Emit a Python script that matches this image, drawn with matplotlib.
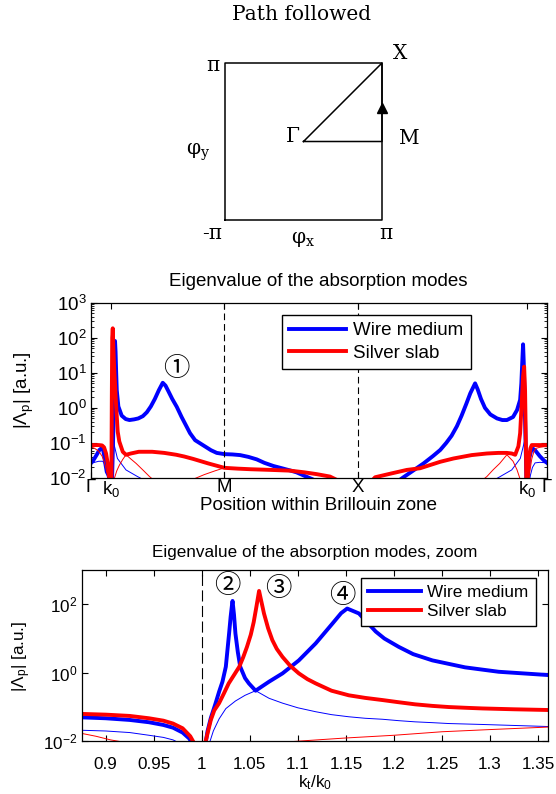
import numpy as np
import matplotlib
matplotlib.use('Agg')
import matplotlib.pyplot as plt

plt.rcParams['font.family'] = 'Liberation Sans'
plt.rcParams['mathtext.fontset'] = 'custom'
plt.rcParams['mathtext.rm'] = 'Liberation Sans'
plt.rcParams['mathtext.it'] = 'Liberation Sans:italic'
plt.rcParams['mathtext.bf'] = 'Liberation Sans:bold'
plt.rcParams['axes.linewidth'] = 0.9

#-------------------------------------------------------------------------
# data
#-------------------------------------------------------------------------

# schematic (units of pi)
box_x  = [-1, 1, 1, -1, -1]
box_y  = [-1, -1, 1, 1, -1]
path_x = [0, 1, 1, 0]          # Gamma -> M -> X -> Gamma
path_y = [0, 0, 1, 0]
arrow_xy = (1, 0.43)

# Brillouin zone path (path length / pi)
bz_ticks  = [0, 0.152, 1, 2, 3.262, 3.414]
bz_labels = ['Γ', 'k$_\\mathrm{0}$', 'M', 'X', 'k$_\\mathrm{0}$', 'Γ']
bz_dashed = [1, 2]

wm_x = [0.0, 0.02, 0.045, 0.065, 0.08, 0.092, 0.1, 0.11, 0.12, 0.133, 0.144, 0.152,
        0.16, 0.167, 0.173, 0.178, 0.182, 0.186, 0.19, 0.195, 0.207, 0.232,
        0.262, 0.29, 0.325, 0.356, 0.39, 0.42, 0.45, 0.48, 0.51, 0.539,
        0.56, 0.581, 0.61, 0.644, 0.68, 0.718, 0.743, 0.781, 0.843, 0.9,
        0.943, 1.0, 1.06, 1.118, 1.18, 1.242, 1.3, 1.367, 1.43, 1.49, 1.54,
        1.6, 1.66, 1.75, 2.0, 2.25, 2.34, 2.42, 2.49, 2.56, 2.615, 2.66, 2.7,
        2.74, 2.775, 2.81, 2.84, 2.876, 2.895, 2.92, 2.95, 2.99, 3.04, 3.08,
        3.114, 3.16, 3.19, 3.213, 3.222, 3.23, 3.235, 3.24, 3.246, 3.252,
        3.258, 3.262, 3.268, 3.28, 3.295, 3.31, 3.325, 3.36, 3.39, 3.414]
wm_y = [0.026, 0.032, 0.046, 0.063, 0.07, 0.066, 0.046, 0.025, 0.015, 0.012, 0.008, 0.002,
        0.01, 0.1, 1.5, 15, 81, 40, 12, 3.2, 1.1, 0.6,
        0.48, 0.45, 0.47, 0.5, 0.58, 0.75, 1.1, 1.8, 3.2, 5.2,
        4.3, 3.0, 1.8, 1.07, 0.55, 0.29, 0.19, 0.12, 0.085, 0.062,
        0.052, 0.048, 0.047, 0.045, 0.04, 0.034, 0.027, 0.022, 0.019, 0.0165, 0.0145,
        0.0115, 0.0092, 0.006, 0.002, 0.006, 0.0105, 0.017, 0.026, 0.042, 0.063, 0.1, 0.16,
        0.3, 0.6, 1.3, 2.6, 5.0, 3.4, 1.8, 1.0, 0.65, 0.5, 0.45,
        0.45, 0.55, 0.87, 1.7, 5, 25, 65, 20, 2, 0.2,
        0.02, 0.002, 0.01, 0.035, 0.06, 0.068, 0.062, 0.042, 0.032, 0.027]

wm2_x = [0.0, 0.03, 0.06, 0.09, 0.105, 0.12, 0.135, 0.145, 0.15, 0.153, 0.156, 0.159,
         0.165, 0.2, 0.264, 0.35, 0.42, 0.5, np.nan,
         2.9, 3.0, 3.064, 3.15, 3.214, 3.25, 3.253, 3.256, 3.259,
         3.262, 3.268, 3.28, 3.29, 3.305, 3.325, 3.36, 3.414]
wm2_y = [0.026, 0.028, 0.03, 0.03, 0.025, 0.015, 0.007, 0.004, 0.01, 0.5, 2.5, 0.6,
         0.13, 0.036, 0.017, 0.011, 0.008, 0.005, np.nan,
         0.005, 0.008, 0.011, 0.017, 0.036, 0.13, 0.6, 2.0, 0.5,
         0.01, 0.004, 0.007, 0.012, 0.02, 0.027, 0.028, 0.027]

ss_x = [0.0, 0.03, 0.06, 0.085, 0.1, 0.115, 0.128, 0.14, 0.148, 0.152, 0.155,
        0.158, 0.161, 0.165, 0.169, 0.175, 0.183, 0.19, 0.202, 0.214, 0.24,
        0.264, 0.3, 0.36, 0.46, 0.55, 0.64, 0.7, 0.767, 0.88,
        1.0, 1.1, 1.194, 1.35, 1.493, 1.6, 1.69, 1.79, 1.85, 2.0, 2.1, 2.128,
        2.25, 2.365, 2.465, 2.615, 2.714, 2.85, 2.964, 3.05, 3.114, 3.15,
        3.176, 3.2, 3.213, 3.226, 3.235, 3.243, 3.25, 3.256, 3.262, 3.268,
        3.28, 3.29, 3.3, 3.35, 3.414]
ss_y = [0.087, 0.087, 0.087, 0.085, 0.075, 0.05, 0.025, 0.011, 0.004, 0.001, 0.01,
        2.0, 100, 186, 60, 15, 4, 1.2, 0.21, 0.11, 0.056,
        0.046, 0.05, 0.056, 0.056, 0.052, 0.046, 0.041, 0.035, 0.026,
        0.0195, 0.0185, 0.0178, 0.017, 0.0162, 0.0145, 0.0129, 0.011, 0.0085, 0.003, 0.008, 0.0105,
        0.0135, 0.017, 0.019, 0.029, 0.036, 0.045, 0.05, 0.052, 0.052, 0.05,
        0.046, 0.08, 0.19, 1.7, 8, 15, 3, 0.1, 0.001, 0.01,
        0.04, 0.07, 0.087, 0.087, 0.087]

ss2_x = [0.0, 0.03, 0.06, 0.085, 0.1, 0.115, 0.13, 0.14, np.nan,
         0.178, 0.195, 0.214, 0.24, 0.264, 0.3, 0.34, 0.39, 0.44, 0.5, np.nan,
         0.76, 0.85, 0.93, 1.0, np.nan,
         2.9, 2.964, 3.01, 3.06, 3.114, 3.16, 3.19, 3.21, 3.22, np.nan,
         3.275, 3.285, 3.3, 3.315, 3.33, 3.36, 3.39, 3.414]
ss2_y = [0.078, 0.07, 0.058, 0.042, 0.03, 0.018, 0.01, 0.006, np.nan,
         0.01, 0.016, 0.023, 0.034, 0.046, 0.035, 0.026, 0.017, 0.011, 0.007, np.nan,
         0.009, 0.0125, 0.016, 0.0195, np.nan,
         0.007, 0.011, 0.017, 0.026, 0.046, 0.03, 0.017, 0.01, 0.006, np.nan,
         0.006, 0.015, 0.035, 0.055, 0.07, 0.075, 0.078, 0.078]

# zoom near the light line (k_t / k_0)
kz_ticks  = [0.9, 0.95, 1, 1.05, 1.1, 1.15, 1.2, 1.25, 1.3, 1.35]
kz_labels = ['0.9', '0.95', '1', '1.05', '1.1', '1.15', '1.2', '1.25', '1.3', '1.35']

zwm_x = [0.875, 0.9, 0.925, 0.945, 0.96, 0.97, 0.98, 0.987, 0.992, 0.996, 1.0,
         1.003, 1.006, 1.0094, 1.014, 1.018, 1.0215, 1.025, 1.0267, 1.0285,
         1.03, 1.0315, 1.032, 1.0335, 1.035, 1.0375, 1.04, 1.045, 1.049, 1.056,
         1.07, 1.084, 1.101, 1.1185, 1.1358, 1.145, 1.1513, 1.1635, 1.172,
         1.181, 1.19, 1.205, 1.22, 1.24, 1.274, 1.309, 1.36]
zwm_y = [0.05, 0.047, 0.042, 0.036, 0.03, 0.025, 0.018, 0.012, 0.007, 0.003, 0.001,
         0.006, 0.02, 0.048, 0.12, 0.28, 0.55, 1.5, 4.6, 15,
         43, 100, 125, 50, 14, 4, 1.5, 0.7, 0.49, 0.3,
         0.55, 0.96, 2.3, 7.2, 27, 55, 75, 54, 30,
         16, 10, 5.7, 3.5, 2.3, 1.44, 1.07, 0.86]

zwm2_x = [0.875, 0.9, 0.925, 0.945, 0.96, 0.97, 0.98, 0.99, np.nan,
          1.004, 1.006, 1.012, 1.018, 1.025, 1.035, 1.045, 1.056, 1.07, 1.084,
          1.1, 1.1185, 1.135, 1.153, 1.17, 1.188, 1.205, 1.222, 1.24, 1.257,
          1.292, 1.325, 1.36]
zwm2_y = [0.021, 0.02, 0.018, 0.015, 0.013, 0.011, 0.008, 0.004, np.nan,
          0.003, 0.006, 0.02, 0.045, 0.09, 0.15, 0.22, 0.3, 0.18, 0.13,
          0.095, 0.073, 0.06, 0.052, 0.047, 0.044, 0.04, 0.037, 0.035, 0.033,
          0.031, 0.029, 0.027]

zss_x = [0.875, 0.9, 0.925, 0.945, 0.96, 0.97, 0.98, 0.988, 0.994, 0.998, 1.0,
         1.004, 1.0094, 1.013, 1.018, 1.023, 1.028, 1.034, 1.039, 1.043, 1.047,
         1.051, 1.054, 1.057, 1.0596, 1.062, 1.0647, 1.069, 1.0734, 1.078,
         1.084, 1.092, 1.101, 1.11, 1.1185, 1.135, 1.153, 1.17, 1.188, 1.205,
         1.222, 1.24, 1.257, 1.275, 1.292, 1.325, 1.36]
zss_y = [0.063, 0.06, 0.055, 0.047, 0.04, 0.033, 0.024, 0.014, 0.007, 0.003, 0.001,
         0.01, 0.042, 0.08, 0.13, 0.25, 0.49, 0.9, 1.5, 2.8, 5.7,
         13, 30, 90, 245, 120, 54, 20, 9, 5,
         2.9, 1.6, 0.96, 0.65, 0.49, 0.3, 0.22, 0.185, 0.16, 0.138,
         0.12, 0.108, 0.1, 0.095, 0.091, 0.086, 0.082]

zss2_x = [0.875, 0.89, 0.905, 0.92, 0.94, np.nan,
          1.07, 1.087, 1.12, 1.15, 1.2, 1.25, 1.3, 1.36]
zss2_y = [0.017, 0.014, 0.011, 0.0093, 0.007, np.nan,
          0.007, 0.0095, 0.011, 0.0125, 0.015, 0.019, 0.022, 0.026]

#-------------------------------------------------------------------------
# figure
#-------------------------------------------------------------------------

W, H = 556, 794
fig = plt.figure(figsize=(W/100, H/100), dpi=100)

def rect(l, r, t, b):
  return [l/W, 1 - b/H, (r - l)/W, (b - t)/H]

serif = dict(family='DejaVu Serif', fontsize=14.5, math_fontfamily='dejavuserif')
circ  = dict(ha='center', va='center', fontsize=19, family=['Noto Sans CJK JP'])

#-------------------------------------------------------------------------
# path followed
#-------------------------------------------------------------------------

ax0 = fig.add_axes(rect(225, 382, 63, 220))
ax0.set_xlim(-np.pi, np.pi)
ax0.set_ylim(-np.pi, np.pi)
ax0.axis('off')
ax0.plot(np.pi*np.array(box_x), np.pi*np.array(box_y), 'k-', lw=1.1, clip_on=False)
ax0.plot(np.pi*np.array(path_x), np.pi*np.array(path_y), 'k-', lw=1.1, clip_on=False)
ax0.plot(np.pi*arrow_xy[0], np.pi*arrow_xy[1], 'k^', ms=7, clip_on=False)

fig.text(301.7/W, 1 - 15/H, 'Path followed', ha='center', va='center', **serif)
for txt, fx, fy in [('π', -0.075, 0.985), ('X', 1.118, 1.062), ('Γ', 0.435, 0.531),
                    ('M', 1.172, 0.52), ('φ$_\\mathrm{y}$', -0.17, 0.43),
                    ('-π', -0.085, -0.089), ('φ$_\\mathrm{x}$', 0.494, -0.127),
                    ('π', 1.024, -0.089)]:
  ax0.text(fx, fy, txt, transform=ax0.transAxes, ha='center', va='center', **serif)

#-------------------------------------------------------------------------
# eigenvalue along the Brillouin zone
#-------------------------------------------------------------------------

fs1 = 13.5
ax1 = fig.add_axes(rect(90.7, 547, 302.7, 478))
ax1.plot(wm_x, wm_y, color='#0000ff', lw=2.8, label='Wire medium')
ax1.plot(wm2_x, wm2_y, color='#0000ff', lw=0.7)
ax1.plot(ss_x, ss_y, color='#ff0000', lw=2.8, label='Silver slab')
ax1.plot(ss2_x, ss2_y, color='#ff0000', lw=0.7)
for xd in bz_dashed:
  ax1.axvline(xd, color='k', lw=0.8, ls=(0, (6, 3.5)))

ax1.set_yscale('log')
ax1.set_xlim(bz_ticks[0], bz_ticks[-1])
ax1.set_ylim(1e-2, 1e3)
ax1.set_xticks(bz_ticks, bz_labels)
ax1.set_yticks([1e-2, 1e-1, 1e0, 1e1, 1e2, 1e3])
ax1.tick_params(which='both', direction='in', top=True, right=True, labelsize=fs1)
ax1.tick_params(which='major', length=4, width=0.8)
ax1.tick_params(which='minor', length=2.2, width=0.6)
ax1.tick_params(axis='x', pad=0.5)
ax1.tick_params(axis='y', pad=3)
ax1.legend(loc='upper left', bbox_to_anchor=(0.419, 0.932), borderaxespad=0,
           fontsize=fs1, fancybox=False, framealpha=1, edgecolor='k',
           handlelength=3.0, handletextpad=0.4, labelspacing=0.3)

fig.text(318/W, 1 - 282/H, 'Eigenvalue of the absorption modes', ha='center', va='center', fontsize=fs1)
fig.text(318/W, 1 - 505/H, 'Position within Brillouin zone', ha='center', va='center', fontsize=fs1)
fig.text(24/W, 1 - 390/H, '|Λ$_\\mathrm{p}$| [a.u.]', ha='center', va='center', rotation=90, fontsize=fs1)
ax1.text(0.644, 12.9, '①', **circ)

#-------------------------------------------------------------------------
# zoom near the light line
#-------------------------------------------------------------------------

fs2 = 12.3
ax2 = fig.add_axes(rect(81.7, 547.7, 570, 741.3))
ax2.plot(zwm_x, zwm_y, color='#0000ff', lw=2.8, label='Wire medium')
ax2.plot(zwm2_x, zwm2_y, color='#0000ff', lw=0.7)
ax2.plot(zss_x, zss_y, color='#ff0000', lw=2.8, label='Silver slab')
ax2.plot(zss2_x, zss2_y, color='#ff0000', lw=0.7)
ax2.axvline(1, color='k', lw=0.8, ls=(0, (10, 4)))

ax2.set_yscale('log')
ax2.set_xlim(0.875, 1.36)
ax2.set_ylim(1e-2, 1e3)
ax2.set_xticks(kz_ticks, kz_labels)
ax2.set_yticks([1e-2, 1e0, 1e2])
ax2.minorticks_off()
ax2.tick_params(which='both', direction='in', top=True, right=True, labelsize=fs2, length=4, width=0.8)
ax2.tick_params(axis='x', pad=11)
ax2.tick_params(axis='y', pad=3)
ax2.legend(loc='upper left', bbox_to_anchor=(0.599, 0.953), borderaxespad=0,
           fontsize=fs2, fancybox=False, framealpha=1, edgecolor='k',
           handlelength=3.1, handletextpad=0.4, labelspacing=0.25)

fig.text(315/W, 1 - 553/H, 'Eigenvalue of the absorption modes, zoom', ha='center', va='center', fontsize=fs2)
fig.text(315/W, 1 - 783/H, 'k$_\\mathrm{t}$/k$_\\mathrm{0}$', ha='center', va='center', fontsize=fs2)
fig.text(22/W, 1 - 656/H, '|Λ$_\\mathrm{p}$| [a.u.]', ha='center', va='center', rotation=90, fontsize=fs2)
for txt, xt, yt in [('②', 1.027, 363), ('③', 1.080, 288), ('④', 1.146, 185)]:
  ax2.text(xt, yt, txt, **circ)

fig.savefig('out.png', dpi=100)
